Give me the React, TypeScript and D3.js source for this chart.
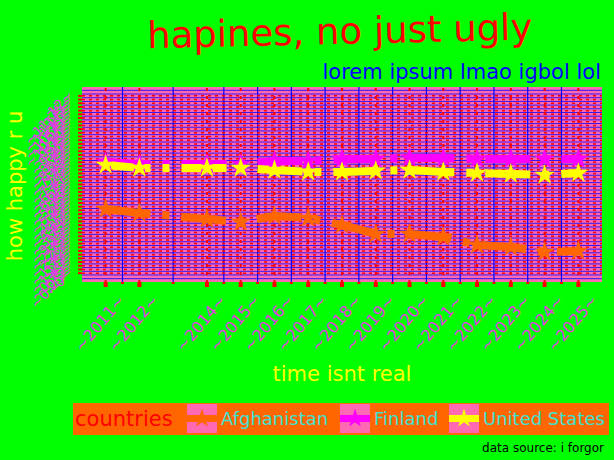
import * as d3 from "d3";

// data
const years = [2011, 2012, 2014, 2015, 2016, 2017, 2018, 2019, 2020, 2021, 2022, 2023, 2024, 2025];
const afghanistan = [4.34, 4.07, 3.67, 3.46, 3.87, 3.73, 3.26, 2.65, 2.65, 2.45, 1.91, 1.77, 1.43, 1.5];
const finland = [7.52, 7.39, 7.39, 7.39, 7.59, 7.59, 7.73, 7.73, 7.8, 7.8, 7.73, 7.73, 7.73, 7.73];
const unitedStates = [7.32, 7.12, 7.12, 7.12, 6.98, 6.85, 6.85, 6.92, 6.98, 6.85, 6.78, 6.71, 6.64, 6.78];
const countries = ["Afghanistan", "Finland", "United States"];
const colors = ["#ff6600", "#ff00ff", "#ffff00"];
const yBreaks = d3.range(0, 12.001, 0.25);

const W = 614;
const H = 460;
const panel = { left: 82, right: 602, top: 87, bottom: 282 };
const font = "DejaVu Sans, sans-serif";
const labelColor = "#e23ce2";

const x = d3.scaleLinear().domain([2010.3, 2025.7]).range([panel.left, panel.right]);
const y = d3.scaleLinear().domain([-0.6, 12.6]).range([panel.bottom, panel.top]);

const series = [afghanistan, finland, unitedStates];
const line = d3
  .line<number>()
  .x((_, i) => x(years[i]))
  .y((d) => y(d));
const star = d3.symbol(d3.symbolStar, 130)();
const keyStar = d3.symbol(d3.symbolStar, 110)();

const xMinor = years.slice(1).map((yr, i) => (yr + years[i]) / 2);
const yMinor = d3.range(-0.625, 12.7, 0.25).filter((v) => v > -0.6 && v < 12.6);

export default function App() {
  return (
    <svg width={W} height={H} style={{ position: "absolute", left: 0, top: 0 }} fontFamily={font}>
      <rect width={W} height={H} fill="#00ff00" />

      {/* panel */}
      <rect
        x={panel.left}
        y={panel.top}
        width={panel.right - panel.left}
        height={panel.bottom - panel.top}
        fill="#ff69b4"
      />
      {yMinor.map((v) => (
        <line key={"ym" + v} x1={panel.left} x2={panel.right} y1={y(v)} y2={y(v)} stroke="#0000ff" strokeWidth={0.8} />
      ))}
      {xMinor.map((v) => (
        <line key={"xm" + v} x1={x(v)} x2={x(v)} y1={panel.top} y2={panel.bottom} stroke="#0000ff" strokeWidth={1.2} />
      ))}
      {yBreaks.map((v) => (
        <line
          key={"yM" + v}
          x1={panel.left}
          x2={panel.right}
          y1={y(v)}
          y2={y(v)}
          stroke="#ff0000"
          strokeWidth={1.5}
          strokeDasharray="3 4"
        />
      ))}
      {years.map((v) => (
        <line
          key={"xM" + v}
          x1={x(v)}
          x2={x(v)}
          y1={panel.top + 1}
          y2={panel.bottom}
          stroke="#ff0000"
          strokeWidth={2}
          strokeDasharray="3 5"
        />
      ))}

      {/* lines then points */}
      {series.map((s, i) => (
        <path
          key={"l" + i}
          d={line(s) ?? ""}
          fill="none"
          stroke={colors[i]}
          strokeWidth={8}
          strokeDasharray="45 12 7 12"
          strokeLinejoin="round"
        />
      ))}
      {series.map((s, i) =>
        s.map((v, j) => (
          <path key={"p" + i + "-" + j} d={star ?? ""} transform={`translate(${x(years[j])},${y(v)})`} fill={colors[i]} />
        ))
      )}

      {/* y axis */}
      {yBreaks.map((v) => (
        <line key={"yt" + v} x1={78} x2={82} y1={y(v)} y2={y(v)} stroke="#ff0000" strokeWidth={2} />
      ))}
      {yBreaks.map((v) => (
        <text
          key={"yl" + v}
          transform={`translate(74,${y(v)}) rotate(-47)`}
          textAnchor="end"
          fontSize={14}
          fill={labelColor}
        >
          {`~${v}~`}
        </text>
      ))}

      {/* x axis */}
      {years.map((v) => (
        <rect key={"xt" + v} x={x(v) - 2} y={282} width={4} height={5} fill="#ff0000" />
      ))}
      {xMinor.map((v) => (
        <rect key={"xtm" + v} x={x(v) - 1.5} y={282} width={3} height={2} fill="#ff0000" />
      ))}
      {years.map((v) => (
        <text
          key={"xl" + v}
          transform={`translate(${x(v) + 20},${301}) rotate(-50)`}
          textAnchor="end"
          fontSize={16}
          fill={labelColor}
        >
          {`~${v}~`}
        </text>
      ))}

      {/* titles */}
      <text
        transform="translate(340,44) rotate(-1.3)"
        textAnchor="middle"
        fontSize={37}
        fill="#ff0000"
      >
        hapines, no just ugly
      </text>
      <text x={601} y={79} textAnchor="end" fontSize={21} fill="#0000ff">
        lorem ipsum lmao igbol lol
      </text>
      <text x={342} y={381} textAnchor="middle" fontSize={21} fill="#ffff00">
        time isnt real
      </text>
      <text transform="translate(22,186) rotate(-90)" textAnchor="middle" fontSize={21} fill="#ffff00">
        how happy r u
      </text>

      {/* legend */}
      <rect x={73} y={403} width={536} height={32} fill="#ff6600" />
      <text x={75} y={426} fontSize={21} fill="#ff0000">
        countries
      </text>
      {countries.map((c, i) => {
        const kx = [187, 340, 449][i];
        return (
          <g key={c}>
            <rect x={kx} y={404} width={30} height={29} fill="#ff69b4" />
            <line x1={kx} x2={kx + 30} y1={418.5} y2={418.5} stroke={colors[i]} strokeWidth={7} />
            <path d={keyStar ?? ""} transform={`translate(${kx + 15},${418.5})`} fill={colors[i]} />
            <text x={kx + 34} y={425} fontSize={18} fill="#40e0d0">
              {c}
            </text>
          </g>
        );
      })}
      <text x={604} y={452} textAnchor="end" fontSize={12} fill="#000000">
        data source: i forgor
      </text>
    </svg>
  );
}
